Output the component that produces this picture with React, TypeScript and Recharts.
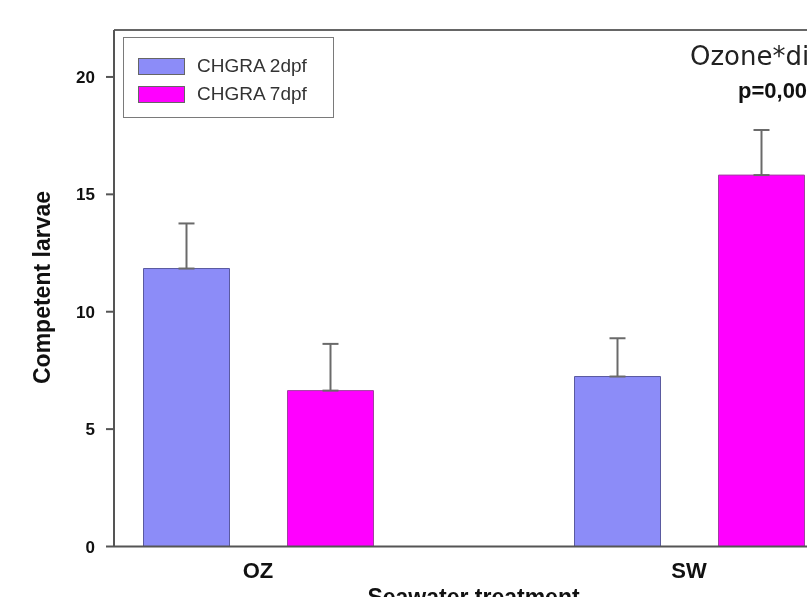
import React from 'react';
import { BarChart, Bar, XAxis, YAxis, ErrorBar, Legend, ReferenceLine } from 'recharts';

const categories = ['OZ', 'SW'];
const mean2dpf = [11.84, 7.24];
const se2dpf = [1.92, 1.63];
const mean7dpf = [6.64, 15.82];
const se7dpf = [1.99, 1.92];
const yTicks = [0, 5, 10, 15, 20];

const FONT = '"Liberation Sans", Arial, Helvetica, sans-serif';

const data = categories.map((name, i) => ({
  name,
  d2: mean2dpf[i],
  // only the upper half of the error bar is drawn
  e2: [0, se2dpf[i]],
  d7: mean7dpf[i],
  e7: [0, se7dpf[i]],
}));

const renderLegend = (props: any) => {
  const payload = props.payload || [];
  return (
    <div
      style={{
        width: 211,
        height: 81,
        border: '1.5px solid #7a7a7a',
        boxSizing: 'border-box',
        position: 'relative',
        background: '#fff',
        fontFamily: FONT,
      }}
    >
      {payload.map((entry: any, i: number) => (
        <div
          key={entry.value}
          style={{ position: 'absolute', left: 14, top: 18 + i * 28, display: 'flex', alignItems: 'center' }}
        >
          <span
            style={{
              display: 'inline-block',
              width: 47,
              height: 17,
              background: entry.color,
              border: '1px solid #666',
              boxSizing: 'border-box',
            }}
          />
          <span style={{ marginLeft: 12, fontSize: 19, color: '#333', lineHeight: '20px' }}>{entry.value}</span>
        </div>
      ))}
    </div>
  );
};

export default function App() {
  return (
    <div style={{ position: 'fixed', left: 8, top: 8, width: 799, height: 589, overflow: 'hidden' }}>
      <BarChart
        width={950}
        height={610}
        data={data}
        margin={{ top: 22, right: 0, left: 16, bottom: 21.5 }}
        barSize={86}
        barGap={58}
      >
        <XAxis
          dataKey="name"
          padding={{ left: -71.5, right: 53.5 }}
          height={50}
          tickLine={false}
          tickSize={6}
          tickMargin={10}
          stroke="#555"
          strokeWidth={2}
          tick={{ fill: '#111', fontSize: 22, fontWeight: 'bold', fontFamily: FONT }}
        />
        <YAxis
          domain={[0, 22]}
          ticks={yTicks}
          width={90}
          tickSize={8}
          tickMargin={11}
          stroke="#555"
          strokeWidth={2}
          tick={{ fill: '#111', fontSize: 17, fontWeight: 'bold', fontFamily: FONT }}
        />
        <ReferenceLine y={22} stroke="#666" strokeWidth={2} />
        <Legend
          layout="horizontal"
          verticalAlign="middle"
          align="center"
          content={renderLegend}
          wrapperStyle={{ left: 115, top: 29, width: 211, height: 81 }}
        />
        <Bar dataKey="d2" name="CHGRA 2dpf" fill="#8c8cf8" stroke="#5a5aa0" strokeWidth={1} isAnimationActive={false}>
          <ErrorBar dataKey="e2" width={8} stroke="#6a6a6a" strokeWidth={2} isAnimationActive={false} />
        </Bar>
        <Bar dataKey="d7" name="CHGRA 7dpf" fill="#ff00ff" stroke="#a040a0" strokeWidth={1} isAnimationActive={false}>
          <ErrorBar dataKey="e7" width={8} stroke="#6a6a6a" strokeWidth={2} isAnimationActive={false} />
        </Bar>
        <text
          x={41.5}
          y={279.5}
          transform="rotate(-90 41.5 279.5)"
          textAnchor="middle"
          fontFamily={FONT}
          fontWeight="bold"
          fontSize={23}
          fill="#111"
        >
          Competent larvae
        </text>
        <text x={465.5} y={596.5} textAnchor="middle" fontFamily={FONT} fontWeight="bold" fontSize={23} fill="#111">
          Seawater treatment
        </text>
        <text x={682} y={57} fontFamily='"DejaVu Sans", sans-serif' fontSize={26} fill="#222">
          Ozone*diet
        </text>
        <text x={730} y={90} fontFamily={FONT} fontWeight="bold" fontSize={22} fill="#111">
          p=0,001
        </text>
      </BarChart>
    </div>
  );
}
